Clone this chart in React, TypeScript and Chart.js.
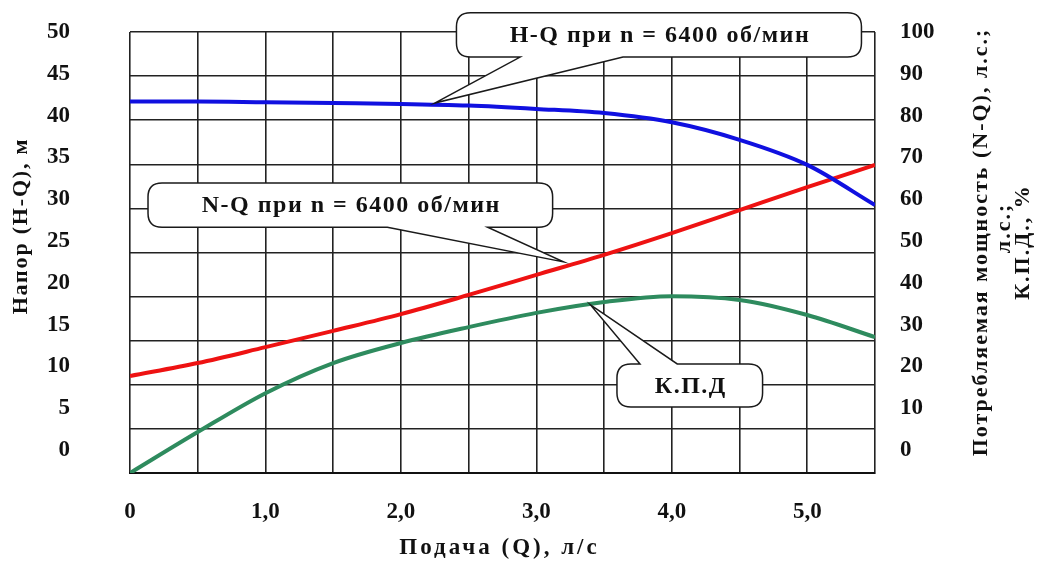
import React, { useEffect, useRef } from 'react';
import { Chart, registerables } from 'chart.js';

Chart.register(...registerables);

// ---- data ----
const flowQ = [0, 0.5, 1.0, 1.5, 2.0, 2.5, 3.0, 3.5, 4.0, 4.5, 5.0, 5.5];
const headHQ = [41.7, 41.7, 41.6, 41.5, 41.4, 41.2, 40.8, 40.3, 39.2, 37.1, 34.1, 29.3];
const powerNQ = [17.7, 20.8, 24.6, 28.5, 32.5, 37.1, 41.9, 46.7, 51.9, 57.4, 62.9, 68.2];
const efficiencyKPD = [-5.5, 4.3, 13.6, 20.8, 25.6, 29.4, 32.8, 35.4, 36.8, 35.9, 32.3, 27.0];

const headTicks = [0, 5, 10, 15, 20, 25, 30, 35, 40, 45, 50];
const powerTicks = [0, 10, 20, 30, 40, 50, 60, 70, 80, 90, 100];
const flowLabelTicks = [0, 1, 2, 3, 4, 5];

const xTitle = 'Подача (Q), л/с';
const leftTitle = 'Напор (H-Q), м';
const rightTitleLines = ['Потребляемая мощность (N-Q), л.с.;', 'л.с.;', 'К.П.Д., %'];

const labelHQ = 'H-Q при n = 6400 об/мин';
const labelNQ = 'N-Q при n = 6400 об/мин';
const labelKPD = 'К.П.Д';

const FONT = "'Liberation Serif', 'Times New Roman', serif";

// callouts, in data units of the axes they belong to
const callouts = [
  { text: labelHQ, axis: 'y', x0: 2.41, x1: 5.40, yTop: 52.3, yBot: 47.0, side: 'bottom', b1: 2.88, b2: 3.64, tx: 2.25, ty: 41.5 },
  { text: labelNQ, axis: 'y1', x0: 0.133, x1: 3.12, yTop: 63.9, yBot: 53.3, side: 'bottom', b1: 1.9, b2: 2.64, tx: 3.2, ty: 45.0 },
  { text: labelKPD, axis: 'y1', x0: 3.595, x1: 4.67, yTop: 20.6, yBot: 10.3, side: 'top', b1: 3.765, b2: 4.04, tx: 3.4, ty: 34.7 },
];

function calloutPath(ctx: CanvasRenderingContext2D, x0: number, y0: number, x1: number, y1: number, r: number,
  side: string, b1: number, b2: number, tx: number, ty: number) {
  ctx.beginPath();
  ctx.moveTo(x0 + r, y0);
  if (side === 'top') {
    ctx.lineTo(b1, y0);
    ctx.lineTo(tx, ty);
    ctx.lineTo(b2, y0);
  }
  ctx.lineTo(x1 - r, y0);
  ctx.quadraticCurveTo(x1, y0, x1, y0 + r);
  ctx.lineTo(x1, y1 - r);
  ctx.quadraticCurveTo(x1, y1, x1 - r, y1);
  if (side === 'bottom') {
    ctx.lineTo(b2, y1);
    ctx.lineTo(tx, ty);
    ctx.lineTo(b1, y1);
  }
  ctx.lineTo(x0 + r, y1);
  ctx.quadraticCurveTo(x0, y1, x0, y1 - r);
  ctx.lineTo(x0, y0 + r);
  ctx.quadraticCurveTo(x0, y0, x0 + r, y0);
  ctx.closePath();
}

const annotationPlugin = {
  id: 'calloutsAndTitles',
  afterDraw(chart: any) {
    const ctx: CanvasRenderingContext2D = chart.ctx;
    const xs = chart.scales.x;
    const ca = chart.chartArea;

    // callouts
    for (const c of callouts) {
      const ys = chart.scales[c.axis];
      const x0 = xs.getPixelForValue(c.x0);
      const x1 = xs.getPixelForValue(c.x1);
      const y0 = ys.getPixelForValue(c.yTop);
      const y1 = ys.getPixelForValue(c.yBot);
      const b1 = xs.getPixelForValue(c.b1);
      const b2 = xs.getPixelForValue(c.b2);
      const tx = xs.getPixelForValue(c.tx);
      const ty = ys.getPixelForValue(c.ty);
      ctx.save();
      calloutPath(ctx, x0, y0, x1, y1, 14, c.side, b1, b2, tx, ty);
      ctx.fillStyle = '#ffffff';
      ctx.fill();
      ctx.lineWidth = 1.5;
      ctx.strokeStyle = '#1a1a1a';
      ctx.stroke();
      (ctx as any).letterSpacing = '1.5px';
      ctx.font = `bold 24px ${FONT}`;
      ctx.fillStyle = '#111';
      ctx.textAlign = 'center';
      ctx.textBaseline = 'middle';
      ctx.fillText(c.text, (x0 + x1) / 2 + 1, (y0 + y1) / 2 + 1);
      ctx.restore();
    }

    // axis titles
    ctx.save();
    ctx.fillStyle = '#111';
    ctx.textAlign = 'center';
    ctx.textBaseline = 'middle';

    // bottom title
    (ctx as any).letterSpacing = '3px';
    ctx.font = `bold 23px ${FONT}`;
    ctx.fillText(xTitle, (ca.left + ca.right) / 2 - 3, 548);

    // left title
    ctx.save();
    (ctx as any).letterSpacing = '1.8px';
    ctx.font = `bold 22px ${FONT}`;
    ctx.translate(21, 226);
    ctx.rotate(-Math.PI / 2);
    ctx.fillText(leftTitle, 0, 0);
    ctx.restore();

    // right title (reads bottom to top)
    const rx = [981, 1004, 1023];
    const ry = [242, 228, 242];
    rightTitleLines.forEach((line, i) => {
      ctx.save();
      (ctx as any).letterSpacing = '2px';
      ctx.font = `bold 22px ${FONT}`;
      ctx.translate(rx[i], ry[i]);
      ctx.rotate(-Math.PI / 2);
      ctx.fillText(line, 0, 0);
      ctx.restore();
    });
    ctx.restore();
  },
};

const tickFont = { family: FONT, size: 23, weight: 'bold' as const };

export default function App() {
  const canvasRef = useRef<HTMLCanvasElement | null>(null);

  useEffect(() => {
    const canvas = canvasRef.current;
    if (!canvas) return;
    const chart = new Chart(canvas, {
      type: 'line',
      data: {
        datasets: [
          {
            label: labelHQ,
            data: flowQ.map((q, i) => ({ x: q, y: headHQ[i] })),
            yAxisID: 'y',
            borderColor: '#1010e0',
            borderWidth: 4,
            pointRadius: 0,
            tension: 0.4,
            cubicInterpolationMode: 'monotone',
            fill: false,
          },
          {
            label: labelNQ,
            data: flowQ.map((q, i) => ({ x: q, y: powerNQ[i] })),
            yAxisID: 'y1',
            borderColor: '#ee1212',
            borderWidth: 4,
            pointRadius: 0,
            tension: 0.4,
            cubicInterpolationMode: 'monotone',
            fill: false,
          },
          {
            label: labelKPD,
            data: flowQ.map((q, i) => ({ x: q, y: efficiencyKPD[i] })),
            yAxisID: 'y1',
            borderColor: '#2e8b5e',
            borderWidth: 4,
            pointRadius: 0,
            tension: 0.4,
            cubicInterpolationMode: 'monotone',
            fill: false,
          },
        ],
      },
      options: {
        responsive: false,
        animation: false,
        events: [],
        layout: { padding: { top: 32, left: 0, right: 0, bottom: 0 } },
        plugins: {
          legend: { display: false },
          tooltip: { enabled: false },
          title: { display: false },
        },
        scales: {
          x: {
            type: 'linear',
            min: 0,
            max: 5.5,
            ticks: {
              stepSize: 0.5,
              autoSkip: false,
              maxRotation: 0,
              padding: 25,
              color: '#111',
              font: tickFont,
              callback: (v: any) => {
                const n = Number(v);
                if (!flowLabelTicks.includes(n)) return '';
                return n === 0 ? '0' : n.toFixed(1).replace('.', ',');
              },
            },
            grid: { color: '#222', lineWidth: 1.6, drawTicks: false },
            border: { display: true, color: '#111', width: 2 },
            afterFit: (s: any) => { s.height = 94; s.paddingLeft = 0; s.paddingRight = 0; },
          },
          y: {
            type: 'linear',
            position: 'left',
            min: -2.75,
            max: 50,
            afterBuildTicks: (s: any) => { s.ticks = headTicks.map((v) => ({ value: v })); },
            ticks: { padding: 60, color: '#111', font: tickFont },
            grid: { display: false, drawTicks: false },
            border: { display: false },
            afterFit: (s: any) => { s.width = 130; s.paddingTop = 0; s.paddingBottom = 0; },
          },
          yGrid: {
            type: 'linear',
            position: 'left',
            min: 0,
            max: 50,
            ticks: { display: false, stepSize: 5 },
            grid: { color: '#222', lineWidth: 1.6, drawTicks: false },
            border: { display: false },
            afterFit: (s: any) => { s.width = 0; s.paddingTop = 0; s.paddingBottom = 0; },
          },
          y1: {
            type: 'linear',
            position: 'right',
            min: -5.5,
            max: 100,
            afterBuildTicks: (s: any) => { s.ticks = powerTicks.map((v) => ({ value: v })); },
            ticks: { padding: 25, color: '#111', font: tickFont },
            grid: { display: false, drawTicks: false },
            border: { display: false },
            afterFit: (s: any) => { s.width = 170; s.paddingTop = 0; s.paddingBottom = 0; },
          },
        },
      } as any,
      plugins: [annotationPlugin],
    });
    return () => chart.destroy();
  }, []);

  return (
    <div style={{ position: 'absolute', left: 0, top: 0, width: 1045, height: 567, background: '#fff' }}>
      <canvas ref={canvasRef} width={1045} height={567} style={{ display: 'block' }} />
    </div>
  );
}
